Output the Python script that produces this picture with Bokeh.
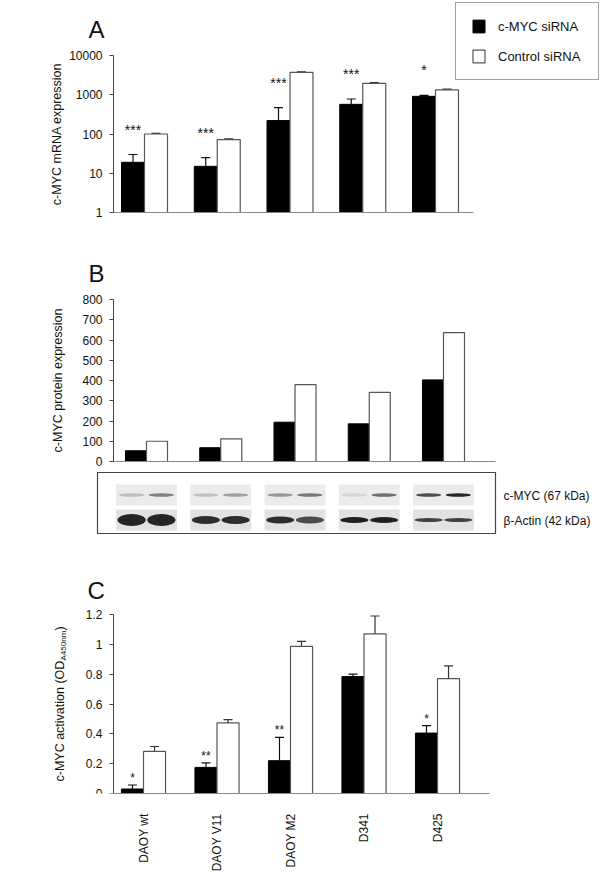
import numpy as np
from bokeh.plotting import figure
from bokeh.models import (ColumnDataSource, Whisker, TeeHead, Legend, LegendItem, Label,
                          FixedTicker, NumeralTickFormatter, Range1d, CustomJSTickFormatter)
from bokeh.layouts import column
from bokeh.embed import file_html
from bokeh.resources import INLINE
from bokeh.core.properties import value

# ---------------- data ----------------
cell_lines = ["DAOY wt", "DAOY V11", "DAOY M2", "D341", "D425"]

# Panel A: c-MYC mRNA expression (log scale)
mrna_sirna = [19, 15, 220, 570, 910]
mrna_sirna_top = [30, 25, 470, 780, 960]
mrna_ctrl = [100, 72, 3700, 1950, 1330]
mrna_ctrl_top = [104, 75, 3850, 2050, 1390]
mrna_stars = ["***", "***", "***", "***", "*"]
mrna_ticks = [1, 10, 100, 1000, 10000]

# Panel B: c-MYC protein expression
protein_sirna = [53, 68, 194, 186, 403]
protein_ctrl = [100, 112, 380, 341, 636]
protein_ticks = [0, 100, 200, 300, 400, 500, 600, 700, 800]

# Western blot band intensities (siRNA lane, control lane per cell line)
myc_band_sirna = [0.22, 0.2, 0.4, 0.1, 0.75]
myc_band_ctrl = [0.5, 0.35, 0.55, 0.6, 0.95]
actin_band_sirna = [0.95, 0.9, 0.9, 0.97, 0.8]
actin_band_ctrl = [0.95, 0.9, 0.75, 0.97, 0.8]
actin_band_thick = [12, 8, 7, 6, 4]
blot_rows = ["c-MYC (67 kDa)", "β-Actin (42 kDa)"]

# Panel C: c-MYC activation (OD A450nm)
act_sirna = [0.03, 0.175, 0.22, 0.784, 0.405]
act_sirna_top = [0.057, 0.205, 0.376, 0.80, 0.455]
act_ctrl = [0.282, 0.473, 0.986, 1.07, 0.77]
act_ctrl_top = [0.315, 0.495, 1.02, 1.19, 0.855]
act_stars = ["*", "**", "**", "", "*"]
act_ticks = [0, 0.2, 0.4, 0.6, 0.8, 1.0, 1.2]

# ---------------- styles ----------------
FONT = "Liberation Sans"
W = 600
AXIS_COL = "#444444"
BASE_COL = "#888888"
EDGE_COL = "#555555"
TXT = "#111111"
idx = np.arange(len(cell_lines))


def make_fig(height, xr, yr, ylog=False, bottom=0):
    kw = dict(y_axis_type="log") if ylog else {}
    p = figure(width=W, height=height, x_range=Range1d(*xr), y_range=Range1d(*yr),
               output_backend="svg", toolbar_location=None, title=None,
               min_border_top=0, min_border_left=0, min_border_right=0,
               min_border_bottom=bottom, **kw)
    p.outline_line_color = None
    p.xgrid.visible = False
    p.ygrid.visible = False
    p.background_fill_color = "white"
    p.border_fill_color = "white"
    return p


def style_y(p, label, standoff, loc, bounds, ticks, fmt):
    ax = p.yaxis[0]
    ax.fixed_location = loc
    ax.bounds = bounds
    ax.ticker = FixedTicker(ticks=ticks)
    ax.formatter = NumeralTickFormatter(format=fmt)
    if label:
        ax.axis_label = label
    ax.axis_label_text_font = FONT
    ax.axis_label_text_font_size = "12.5px"
    ax.axis_label_text_font_style = "normal"
    ax.axis_label_text_color = TXT
    ax.axis_label_standoff = standoff
    ax.major_label_text_font = FONT
    ax.major_label_text_font_size = "12px"
    ax.major_label_text_color = TXT
    ax.major_label_standoff = 7
    ax.axis_line_color = AXIS_COL
    ax.major_tick_line_color = AXIS_COL
    ax.major_tick_in = 0
    ax.major_tick_out = 4
    ax.minor_tick_line_color = None


def baseline_x(p, loc, bounds):
    ax = p.xaxis[0]
    ax.fixed_location = loc
    ax.bounds = bounds
    ax.ticker = FixedTicker(ticks=[])
    ax.major_tick_line_color = None
    ax.minor_tick_line_color = None
    ax.axis_line_color = BASE_COL
    ax.axis_line_width = 1.2


def bars(p, width, off, sirna, ctrl, bottom):
    sb = ColumnDataSource(dict(x=idx - off, val=sirna))
    sw = ColumnDataSource(dict(x=idx + off, val=ctrl))
    rb = p.vbar(x="x", top="val", bottom=bottom, width=width, source=sb,
                fill_color="black", line_color="black", line_width=1)
    rw = p.vbar(x="x", top="val", bottom=bottom, width=width, source=sw,
                fill_color="white", line_color=EDGE_COL, line_width=1.2)
    return rb, rw


def errs(p, off, val, top, color):
    src = ColumnDataSource(dict(x=idx + off, val=val, top=top))
    w = Whisker(source=src, base="x", lower="val", upper="top", dimension="height",
                line_color=color, line_width=1.2, lower_head=None,
                upper_head=TeeHead(size=9, line_color=color, line_width=1.2))
    p.add_layout(w)


def stars(p, off, top, labels, yoff, size):
    src = ColumnDataSource(dict(x=idx + off, y=top, t=labels))
    p.text(x="x", y="y", text="t", source=src, text_align="center", text_baseline="middle",
           y_offset=yoff, text_font=value(FONT), text_font_size=size, text_color=TXT)


def screen_label(p, text, x, y, size, **kw):
    p.add_layout(Label(x=x, y=y, x_units="screen", y_units="screen", text=text,
                       text_font=FONT, text_font_size=size, text_color=TXT, **kw))


# ---------------- Panel A (page y 0..248) ----------------
# x: px = 144 + 72.75*v ; y: log10 = (212 - py)/39.25
sA, cA = 72.75, 144.0
offA, wA = 0.158, 0.316
pA = make_fig(248, (-cA / sA, (W - cA) / sA), (10 ** (-36 / 39.25), 10 ** (212 / 39.25)), ylog=True)
style_y(pA, "c-MYC mRNA expression", 2, (113 - cA) / sA, (1, 10000), mrna_ticks, "0")
baseline_x(pA, 1, ((113 - cA) / sA, (473 - cA) / sA))
rbA, rwA = bars(pA, wA, offA, mrna_sirna, mrna_ctrl, 1)
errs(pA, -offA, mrna_sirna, mrna_sirna_top, "#111111")
errs(pA, offA, mrna_ctrl, mrna_ctrl_top, "#333333")
stars(pA, -offA, mrna_sirna_top, mrna_stars, -25, "14px")
screen_label(pA, "A", 88, 248 - 29, "24px", text_baseline="alphabetic")
legend = Legend(items=[LegendItem(label="c-MYC siRNA", renderers=[rbA]),
                       LegendItem(label="Control siRNA", renderers=[rwA])],
                location=(455, 248 - 80), orientation="vertical", padding=15, spacing=14,
                glyph_width=15, glyph_height=16, label_standoff=12, label_width=85,
                label_text_font=FONT, label_text_font_size="13px", label_text_color=TXT,
                border_line_color="#444444", border_line_width=1.2,
                background_fill_color="white", background_fill_alpha=1, margin=0)
pA.add_layout(legend)

# ---------------- Panel B (page y 248..470) ----------------
# x: px = 146 + 74.25*v ; y: py = 461 - 0.2025*val
sB, cB = 74.25, 146.0
kB = 0.2025
offB, wB = 0.1415, 0.283
pB = make_fig(222, (-cB / sB, (W - cB) / sB), (-(470 - 461) / kB, (461 - 248) / kB))
style_y(pB, "c-MYC protein expression", 14, (113 - cB) / sB, (0, 800), protein_ticks, "0")
baseline_x(pB, 0, ((113 - cB) / sB, (495 - cB) / sB))
bars(pB, wB, offB, protein_sirna, protein_ctrl, 0)
screen_label(pB, "B", 88, 470 - 273, "24px", text_baseline="alphabetic")

# ---------------- Western blot (page y 470..540) ----------------
pW = make_fig(70, (-cB / sB, (W - cB) / sB), (0, 70))
pW.xaxis.visible = False
pW.yaxis.visible = False
ROW_MYC, ROW_ACT = 540 - 494.5, 540 - 519.5
pW.quad(left=(97 - cB) / sB, right=(495 - cB) / sB, bottom=540 - 533, top=540 - 472,
        fill_color=None, line_color="#444444", line_width=1.2)
pW.rect(x=idx, y=ROW_MYC, width=0.82, height=21, fill_color="#ebebeb", line_color=None)
pW.rect(x=idx, y=ROW_ACT, width=0.82, height=21, fill_color="#e2e2e2", line_color=None)
lane = 0.2
pW.ellipse(x=idx - lane, y=ROW_MYC, width=0.34, height=3.5, fill_color="#1a1a1a",
           fill_alpha=myc_band_sirna, line_color=None)
pW.ellipse(x=idx + lane, y=ROW_MYC, width=0.34, height=3.5, fill_color="#1a1a1a",
           fill_alpha=myc_band_ctrl, line_color=None)
pW.ellipse(x=idx - lane, y=ROW_ACT, width=0.38, height=actin_band_thick, fill_color="#1a1a1a",
           fill_alpha=actin_band_sirna, line_color=None)
pW.ellipse(x=idx + lane, y=ROW_ACT, width=0.38, height=actin_band_thick, fill_color="#1a1a1a",
           fill_alpha=actin_band_ctrl, line_color=None)
screen_label(pW, blot_rows[0], 503, 540 - 495, "12px", text_baseline="middle")
screen_label(pW, blot_rows[1], 503, 540 - 520, "12px", text_baseline="middle")

# ---------------- Panel C (page y 540..875) ----------------
# x: px = 143 + 73.5*v ; y: py = 793 - 149.17*val
sC, cC = 73.5, 143.0
kC = 179.0 / 1.2
offC, wC = 0.15, 0.30
pC = make_fig(335, (-cC / sC, (W - cC) / sC), (0, (793 - 540) / kC), bottom=875 - 793)
style_y(pC, None, 5, (113 - cC) / sC, (0, 1.2), act_ticks, "0.[0]")
axC = pC.xaxis[0]
axC.bounds = ((113 - cC) / sC, (489 - cC) / sC)
axC.ticker = FixedTicker(ticks=list(idx))
axC.formatter = CustomJSTickFormatter(args=dict(labels=cell_lines),
                                      code="return labels[Math.round(tick)] || ''")
axC.major_label_orientation = np.pi / 2
axC.major_label_standoff = 14
axC.major_label_text_font = FONT
axC.major_label_text_font_size = "12px"
axC.major_label_text_color = TXT
axC.major_tick_line_color = None
axC.minor_tick_line_color = None
axC.axis_line_color = BASE_COL
axC.axis_line_width = 1.2
bars(pC, wC, offC, act_sirna, act_ctrl, 0)
errs(pC, -offC, act_sirna, act_sirna_top, "#111111")
errs(pC, offC, act_ctrl, act_ctrl_top, "#333333")
stars(pC, -offC, act_sirna_top, act_stars, -7, "12px")
screen_label(pC, "C", 87, 793 - 590, "24px", text_baseline="alphabetic")
# y-axis title with subscript, drawn as rotated text pieces
ang = np.pi / 2
screen_label(pC, "c-MYC activation (OD", 59, 12, "12.5px", angle=ang,
             text_align="left", text_baseline="middle")
screen_label(pC, "A450nm", 63, 133, "8px", angle=ang, text_align="left", text_baseline="middle")
screen_label(pC, ")", 59, 163, "12.5px", angle=ang, text_align="left", text_baseline="middle")

layout = column(pA, pB, pW, pC)
open("out.html", "w").write(file_html(layout, INLINE))
